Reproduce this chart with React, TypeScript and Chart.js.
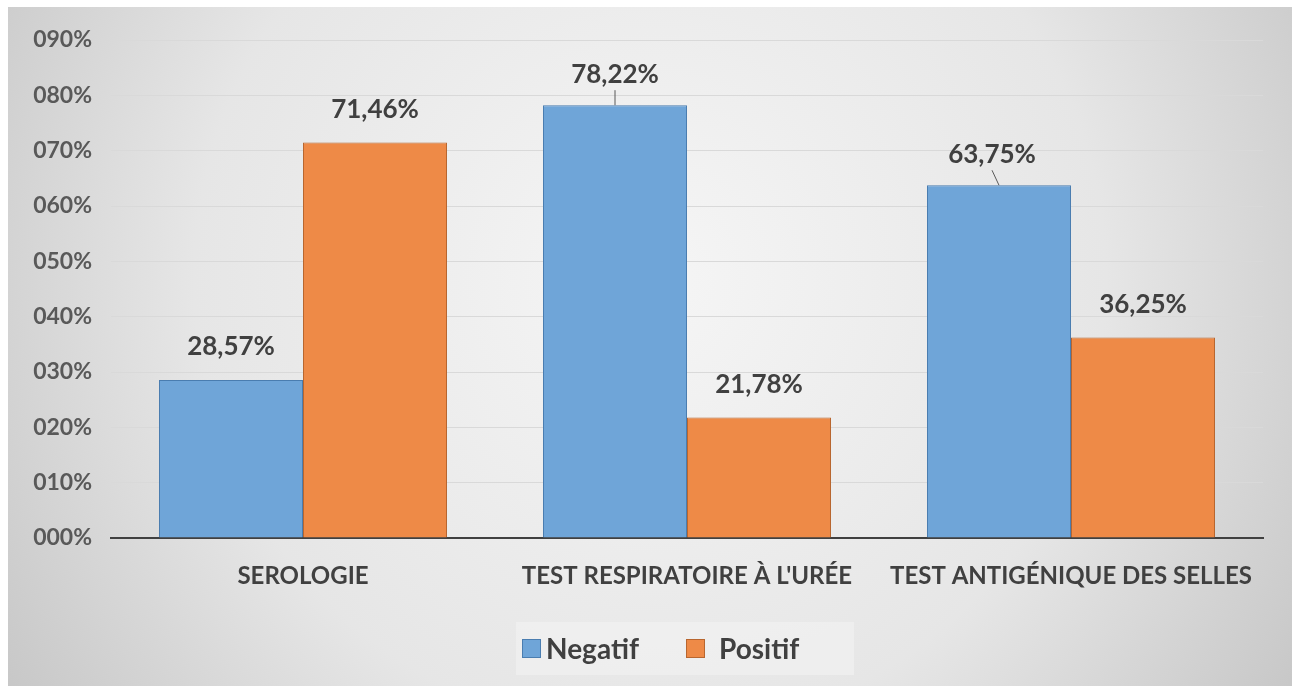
import React, { useEffect, useRef } from "react";
import { Chart, registerables } from "chart.js";

Chart.register(...registerables);

const categories = ["SEROLOGIE", "TEST RESPIRATOIRE À L'URÉE", "TEST ANTIGÉNIQUE DES SELLES"];
const negatif = [28.57, 78.22, 63.75];
const positif = [71.46, 21.78, 36.25];
const seriesNames = ["Negatif", "Positif"];
const yTickValues = [0, 10, 20, 30, 40, 50, 60, 70, 80, 90];

const FONT = "Lato, 'Open Sans', sans-serif";
const TEXT = "#404040";

const fmtLabel = (v: number) => v.toFixed(2).replace(".", ",") + "%";
const fmtTick = (v: number) => String(Math.round(v)).padStart(3, "0") + "%";

const bgPlugin = {
  id: "bgPlugin",
  beforeDraw(chart: any) {
    const { ctx, width, height } = chart;
    ctx.save();
    const g = ctx.createRadialGradient(width * 0.5, height * 0.4, 40, width * 0.5, height * 0.4, width * 0.62);
    g.addColorStop(0, "#f4f4f4");
    g.addColorStop(0.55, "#e6e6e6");
    g.addColorStop(1, "#c4c4c4");
    ctx.fillStyle = g;
    ctx.fillRect(0, 0, width, height);
    ctx.restore();
  },
};

const labelPlugin = {
  id: "labelPlugin",
  afterDatasetsDraw(chart: any) {
    const { ctx } = chart;
    ctx.save();
    chart.data.datasets.forEach((ds: any, di: number) => {
      const meta = chart.getDatasetMeta(di);
      meta.data.forEach((bar: any, i: number) => {
        const v = ds.data[i];
        const leader = di === 0 && i > 0;
        const cx = bar.x - (leader && i === 2 ? 7 : 0);
        const cy = bar.y - (leader ? 31 : 33);
        ctx.font = `bold 26px ${FONT}`;
        ctx.fillStyle = TEXT;
        ctx.textAlign = "center";
        ctx.textBaseline = "middle";
        ctx.fillText(fmtLabel(v), cx, cy);
        if (leader) {
          ctx.strokeStyle = "#595959";
          ctx.lineWidth = 1;
          ctx.beginPath();
          ctx.moveTo(cx, cy + 16);
          ctx.lineTo(bar.x, bar.y);
          ctx.stroke();
        }
      });
    });
    ctx.restore();
  },
  afterDraw(chart: any) {
    const { ctx } = chart;
    const cx = chart.width / 2;
    const cy = 642;
    ctx.save();
    // legend panel
    ctx.fillStyle = "rgba(240,240,240,0.75)";
    ctx.fillRect(cx - 134, cy - 27, 338, 53);
    ctx.font = `bold 28px ${FONT}`;
    ctx.textBaseline = "middle";
    ctx.textAlign = "left";
    const xs = [cx - 134 + 6, cx + 36];
    const gaps = [24, 33];
    chart.data.datasets.forEach((d: any, k: number) => {
      const x = xs[k];
      ctx.fillStyle = d.backgroundColor;
      ctx.strokeStyle = d.borderColor;
      ctx.lineWidth = 1;
      ctx.fillRect(x, cy - 10, 19, 19);
      ctx.strokeRect(x + 0.5, cy - 9.5, 18, 18);
      ctx.fillStyle = TEXT;
      ctx.fillText(d.label, x + gaps[k], cy + 1);
    });
    ctx.restore();
  },
};

export default function App() {
  const ref = useRef<HTMLCanvasElement | null>(null);
  useEffect(() => {
    if (!ref.current) return;
    const chart = new Chart(ref.current, {
      type: "bar",
      data: {
        labels: categories,
        datasets: [
          {
            label: seriesNames[0],
            data: negatif,
            backgroundColor: "#6FA5D8",
            borderColor: "#4A7DB0",
            borderWidth: 1,
            categoryPercentage: 0.75,
            barPercentage: 1,
          },
          {
            label: seriesNames[1],
            data: positif,
            backgroundColor: "#EE8A47",
            borderColor: "#B8662F",
            borderWidth: 1,
            categoryPercentage: 0.75,
            barPercentage: 1,
          },
        ],
      },
      options: {
        animation: false,
        responsive: false,
        layout: { padding: { top: 33, right: 29, left: 0, bottom: 0 } },
        plugins: {
          legend: { display: false },
          tooltip: { enabled: false },
        },
        scales: {
          x: {
            grid: { display: false, drawTicks: false },
            border: { display: true, color: "#404040", width: 2 },
            ticks: {
              color: TEXT,
              font: { family: FONT, size: 24, weight: "bold" },
              padding: 24,
              maxRotation: 0,
              autoSkip: false,
            },
            afterFit(scale: any) {
              scale.height = 148;
            },
          },
          y: {
            min: 0,
            max: 90,
            afterBuildTicks(scale: any) {
              scale.ticks = yTickValues.map((v) => ({ value: v }));
            },
            grid: { color: "#d9d9d9", lineWidth: 1, drawTicks: false },
            border: { display: false },
            ticks: {
              color: "#595959",
              font: { family: FONT, size: 23, weight: "bold" },
              padding: 19,
              callback: (v: any) => fmtTick(Number(v)),
            },
            afterFit(scale: any) {
              scale.width = 103;
            },
          },
        },
      },
      plugins: [bgPlugin, labelPlugin],
    });
    return () => chart.destroy();
  }, []);
  return (
    <div style={{ position: "fixed", left: 8, top: 7, width: 1284, height: 679 }}>
      <canvas ref={ref} width={1284} height={679} style={{ display: "block" }} />
    </div>
  );
}
